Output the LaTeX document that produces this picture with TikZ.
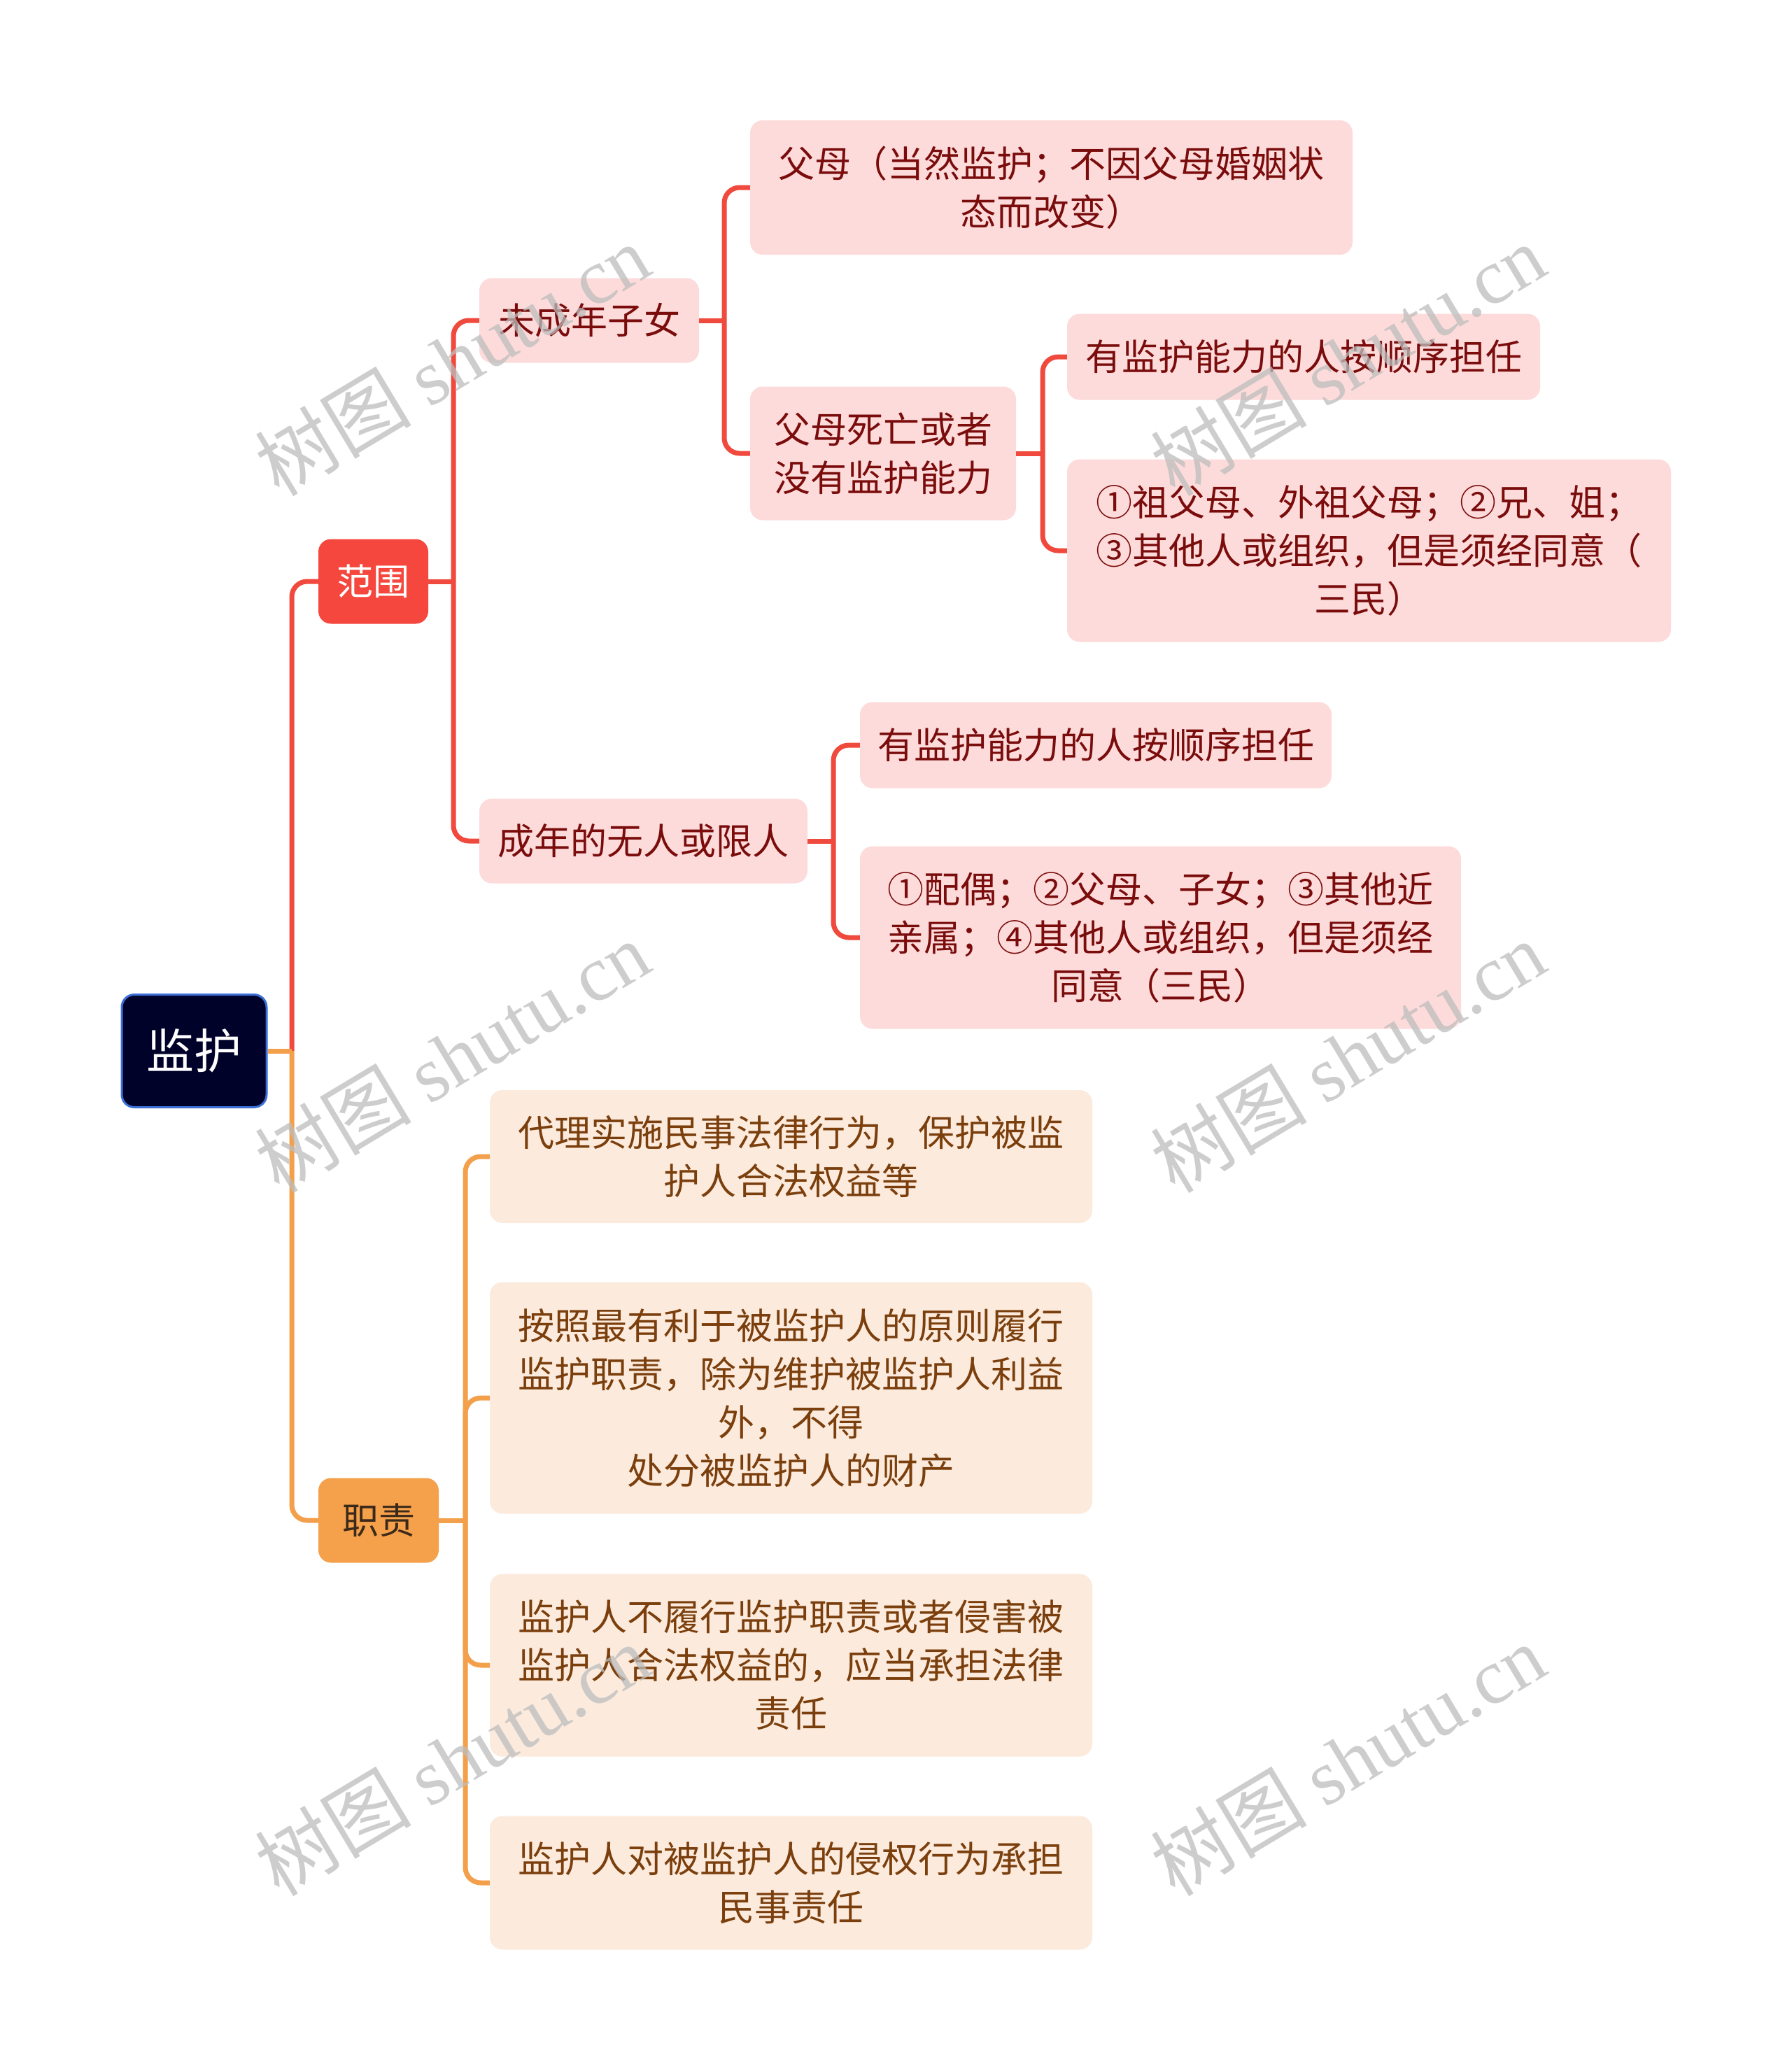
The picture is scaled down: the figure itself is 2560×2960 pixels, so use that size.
\documentclass[tikz,border=0pt]{standalone}
\usepackage{fontspec}
\setmainfont{Noto Sans CJK SC}
\newfontfamily\wmcjk{Noto Sans CJK SC}
\newfontfamily\wmlat{Liberation Serif}
\definecolor{redln}{HTML}{F04A3E}
\definecolor{redfill}{HTML}{F5473D}
\definecolor{pinkfill}{HTML}{FDDBDB}
\definecolor{maroon}{HTML}{7A0C0C}
\definecolor{orangeln}{HTML}{F3A04C}
\definecolor{orangefill}{HTML}{F5A04B}
\definecolor{darkbrown}{HTML}{3B2A1A}
\definecolor{beigefill}{HTML}{FCEBDD}
\definecolor{brown}{HTML}{7B3F0D}
\definecolor{rootfill}{HTML}{00022A}
\definecolor{rootborder}{HTML}{3B6FD6}
\definecolor{wmgray}{HTML}{BDBDBD}
\begin{document}
\begin{tikzpicture}[x=1pt,y=-1pt,
  box/.style={rounded corners=18pt, inner sep=0pt, align=center, font=\fontsize{52}{69}\selectfont},
  rootbox/.style={box, fill=rootfill, draw=rootborder, line width=3pt, text=white, font=\fontsize{68}{80}\selectfont},
  redmain/.style={box, fill=redfill, text=white},
  orangemain/.style={box, fill=orangefill, text=darkbrown},
  pinkbox/.style={box, fill=pinkfill, text=maroon},
  beigebox/.style={box, fill=beigefill, text=brown},
  redline/.style={draw=redln, line width=7pt},
  orangeline/.style={draw=orangeln, line width=7pt},
  elbow/.style={rounded corners=22pt},
  wm/.style={text=wmgray, opacity=0.75, rotate=31, inner sep=0pt, font=\fontsize{112}{120}\selectfont}
]
\useasboundingbox (0,0) rectangle (2560,2960);
\fill[white] (0,0) rectangle (2560,2960);

% nodes
\node[rootbox, minimum width=207pt, minimum height=161pt] (root) at (277.5,1502) {监护};
\node[redmain, minimum width=157pt, minimum height=121pt] (fw) at (533.5,831) {范围};
\node[orangemain, minimum width=172pt, minimum height=121pt] (zz) at (541,2173) {职责};

\node[pinkbox, minimum width=314pt, minimum height=121pt] (wcn) at (842,458) {未成年子女};
\node[pinkbox, minimum width=469pt, minimum height=121pt] (cn) at (919.5,1202) {成年的无人或限人};

\node[pinkbox, minimum width=861pt, minimum height=192pt] (fm) at (1502.5,268) {父母（当然监护；不因父母婚姻状\\态而改变）};
\node[pinkbox, minimum width=380pt, minimum height=191pt] (fs) at (1262,648) {父母死亡或者\\没有监护能力};

\node[pinkbox, minimum width=676pt, minimum height=123pt] (n1) at (1863,510) {有监护能力的人按顺序担任};
\node[pinkbox, minimum width=863pt, minimum height=261pt] (z1) at (1956.5,787) {①祖父母、外祖父母；②兄、姐；\\③其他人或组织，但是须经同意（\\三民）};

\node[pinkbox, minimum width=674pt, minimum height=123pt] (n2) at (1566,1065) {有监护能力的人按顺序担任};
\node[pinkbox, minimum width=859pt, minimum height=261pt] (p2) at (1658.5,1340) {①配偶；②父母、子女；③其他近\\亲属；④其他人或组织，但是须经\\同意（三民）};

\node[beigebox, minimum width=861pt, minimum height=190pt] (d1) at (1130.5,1653) {代理实施民事法律行为，保护被监\\护人合法权益等};
\node[beigebox, minimum width=861pt, minimum height=331pt] (d2) at (1130.5,1998) {按照最有利于被监护人的原则履行\\监护职责，除为维护被监护人利益\\外，不得\\处分被监护人的财产};
\node[beigebox, minimum width=861pt, minimum height=261pt] (d3) at (1130.5,2380) {监护人不履行监护职责或者侵害被\\监护人合法权益的，应当承担法律\\责任};
\node[beigebox, minimum width=861pt, minimum height=191pt] (d4) at (1130.5,2691) {监护人对被监护人的侵权行为承担\\民事责任};

% trunk coordinates
\coordinate (t0) at (417,1502);
\coordinate (t1) at (648,831);
\coordinate (t2) at (1035,458);
\coordinate (t3) at (1490,648);
\coordinate (t4) at (1191,1202);
\coordinate (t5) at (665,2173);

% connectors
\draw[redline, elbow] (t0) |- (fw.west);
\draw[orangeline, elbow] (t0) |- (zz.west);
\draw[orangeline] (root.east) -- (t0);

\draw[redline] (fw.east) -- (t1);
\draw[redline, elbow] (t1) |- (wcn.west);
\draw[redline, elbow] (t1) |- (cn.west);

\draw[redline] (wcn.east) -- (t2);
\draw[redline, elbow] (t2) |- (fm.west);
\draw[redline, elbow] (t2) |- (fs.west);

\draw[redline] (fs.east) -- (t3);
\draw[redline, elbow] (t3) |- (n1.west);
\draw[redline, elbow] (t3) |- (z1.west);

\draw[redline] (cn.east) -- (t4);
\draw[redline, elbow] (t4) |- (n2.west);
\draw[redline, elbow] (t4) |- (p2.west);

\draw[orangeline] (zz.east) -- (t5);
\draw[orangeline, elbow] (t5) |- (d1.west);
\draw[orangeline, elbow] (t5) |- (d2.west);
\draw[orangeline, elbow] (t5) |- (d3.west);
\draw[orangeline, elbow] (t5) |- (d4.west);

% watermarks
\node[wm] (w1) at (646,514) {\wmcjk 树图\ \wmlat shutu.cn};
\node[wm] (w2) at (1926,514) {\wmcjk 树图\ \wmlat shutu.cn};
\node[wm] (w3) at (646,1510) {\wmcjk 树图\ \wmlat shutu.cn};
\node[wm] (w4) at (1926,1510) {\wmcjk 树图\ \wmlat shutu.cn};
\node[wm] (w5) at (646,2515) {\wmcjk 树图\ \wmlat shutu.cn};
\node[wm] (w6) at (1926,2515) {\wmcjk 树图\ \wmlat shutu.cn};
\end{tikzpicture}
\end{document}
